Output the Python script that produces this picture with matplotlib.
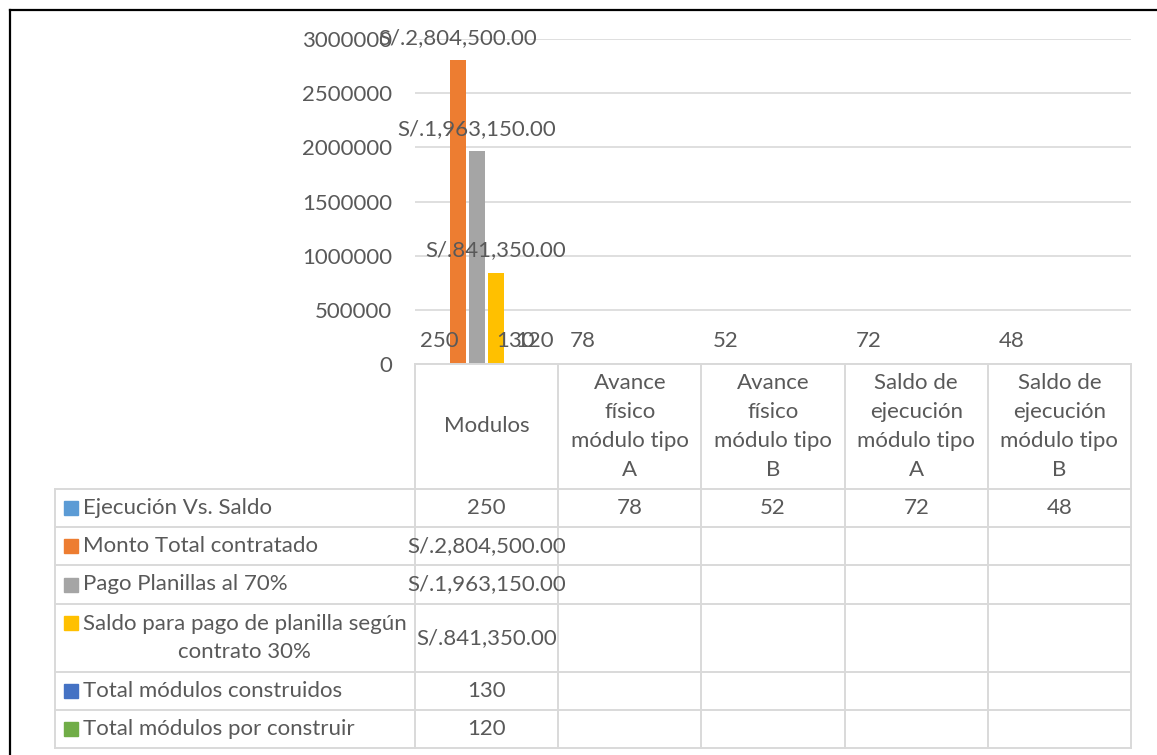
import numpy as np
import matplotlib
matplotlib.use("Agg")
import matplotlib.pyplot as plt
from matplotlib.patches import Rectangle
from matplotlib.lines import Line2D

plt.rcParams['font.family'] = ['Lato', 'DejaVu Sans']

# data
categories = ["Modulos", "Avance\nfísico\nmódulo tipo\nA", "Avance\nfísico\nmódulo tipo\nB",
              "Saldo de\nejecución\nmódulo tipo\nA", "Saldo de\nejecución\nmódulo tipo\nB"]
series_names = ["Ejecución Vs. Saldo", "Monto Total contratado", "Pago Planillas al 70%",
                "Saldo para pago de planilla según\ncontrato 30%",
                "Total módulos construidos", "Total módulos por construir"]
ejecucion = [250, 78, 52, 72, 48]
monto_total = [2804500, np.nan, np.nan, np.nan, np.nan]
pago_planillas = [1963150, np.nan, np.nan, np.nan, np.nan]
saldo_planilla = [841350, np.nan, np.nan, np.nan, np.nan]
construidos = [130, np.nan, np.nan, np.nan, np.nan]
por_construir = [120, np.nan, np.nan, np.nan, np.nan]
series_vals = [ejecucion, monto_total, pago_planillas, saldo_planilla, construidos, por_construir]
money = [False, True, True, True, False, False]
colors = ["#5B9BD5", "#ED7D31", "#A5A5A5", "#FFC000", "#4472C4", "#70AD47"]

def fmt(v, is_money):
    if np.isnan(v):
        return ""
    return f"S/.{v:,.2f}" if is_money else f"{v:.0f}"

W, H = 1157, 755
txt = "#595959"
grid_c = "#D9D9D9"
fs = 16
lsp = 1.56

fig = plt.figure(figsize=(W / 100, H / 100), dpi=100)

# plot area (pixel layout)
x0, x1, y0, y3m = 415, 1131, 364, 39
ax = fig.add_axes([x0 / W, 1 - y0 / H, (x1 - x0) / W, (y0 - y3m) / H])
ax.set_xlim(-0.5, len(categories) - 0.5)
ax.set_ylim(0, 3000000)
ax.set_yticks(np.arange(0, 3000001, 500000))
ax.set_yticklabels([f"{int(t)}" for t in np.arange(0, 3000001, 500000)])
ax.set_xticks([])
ax.tick_params(axis='y', length=0, pad=16.5, labelsize=fs, labelcolor=txt)
for s in ax.spines.values():
    s.set_visible(False)
ax.grid(axis='y', color=grid_c, lw=1.2)
ax.set_axisbelow(True)

step = 0.1327
bw = 0.112
xs = np.arange(len(categories))
for k, vals in enumerate(series_vals):
    bars = ax.bar(xs + (k - 2.5) * step, vals, width=bw, color=colors[k], zorder=2)
    ax.bar_label(bars, labels=[fmt(v, money[k]) for v in vals], padding=9,
                 fontsize=fs, color=txt, zorder=5)

# data table drawn in pixel coordinates
tab = fig.add_axes([0, 0, 1, 1])
tab.set_xlim(0, W)
tab.set_ylim(H, 0)
tab.axis('off')

col_w = (x1 - x0) / len(categories)
col_edges = [x0 + i * col_w for i in range(len(categories) + 1)]
row_edges = [489, 527, 565, 604, 672, 710, 748]
leg_left = 55
lw_t = 1.4

tab.add_line(Line2D([x0, x1], [y0, y0], color=grid_c, lw=lw_t))
for y in row_edges:
    tab.add_line(Line2D([leg_left, x1], [y, y], color=grid_c, lw=lw_t))
for x in col_edges:
    tab.add_line(Line2D([x, x], [y0, row_edges[-1]], color=grid_c, lw=lw_t))
tab.add_line(Line2D([leg_left, leg_left], [row_edges[0], row_edges[-1]], color=grid_c, lw=lw_t))

for i, c in enumerate(categories):
    tab.text(col_edges[i] + col_w / 2, (y0 + row_edges[0]) / 2, c, ha='center', va='center',
             fontsize=fs, color=txt, linespacing=lsp)

for r, name in enumerate(series_names):
    ytop, ybot = row_edges[r], row_edges[r + 1]
    yc = (ytop + ybot) / 2
    nlines = name.count("\n") + 1
    first_line_y = yc - (nlines - 1) * 15
    tab.add_patch(Rectangle((64, first_line_y - 7), 14, 14, color=colors[r]))
    tab.text(83, yc, name, ha='left', va='center', multialignment='center',
             fontsize=fs, color=txt, linespacing=lsp)
    for i, v in enumerate(series_vals[r]):
        tab.text(col_edges[i] + col_w / 2, yc, fmt(v, money[r]), ha='center', va='center',
                 fontsize=fs, color=txt)

# screenshot frame
tab.add_line(Line2D([10, W], [10, 10], color='black', lw=1.6))
tab.add_line(Line2D([10, 10], [10, H], color='black', lw=1.6))

fig.savefig("out.png", dpi=100)
